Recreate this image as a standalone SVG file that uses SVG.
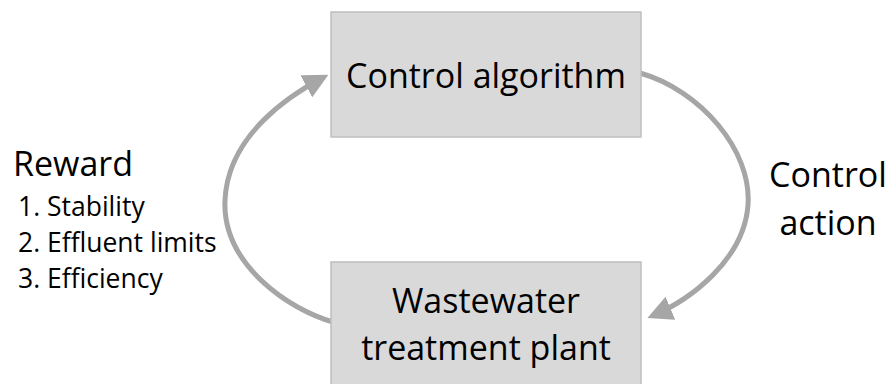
<svg xmlns="http://www.w3.org/2000/svg" width="896" height="384" viewBox="0 0 896 384">
<style>
.box{fill:#d9d9d9;stroke:#bfbfbf;stroke-width:1.5}
text{font-family:"Open Sans","Noto Sans","Liberation Sans",sans-serif;fill:#000}
.big{font-size:34px}
.li{font-size:26.5px}
.conn{fill:none;stroke:#a6a6a6;stroke-width:5}
</style>
<defs>
<marker id="ah" viewBox="0 0 10 10" refX="8" refY="5" markerWidth="5" markerHeight="5" orient="auto" markerUnits="strokeWidth">
<path d="M0,0 L10,5 L0,10 z" fill="#a6a6a6"/>
</marker>
</defs>
<g id="connectors">
<path class="conn" d="M640,73 C700,90 752,150 748,205 C744,260 690,300 652,316" marker-end="url(#ah)"/>
<path class="conn" d="M333,322 C290,310 222,265 225,200 C228,135 290,95 324,77" marker-end="url(#ah)"/>
</g>
<g id="control-algorithm">
<rect class="box" x="331" y="12" width="310" height="125"/>
<text class="big" x="486" y="88" text-anchor="middle">Control algorithm</text>
</g>
<g id="wastewater-plant">
<rect class="box" x="331" y="262" width="310" height="140"/>
<text class="big" x="486" y="313" text-anchor="middle">Wastewater</text>
<text class="big" x="486" y="360" text-anchor="middle">treatment plant</text>
</g>
<g id="reward">
<text class="big" x="13" y="176">Reward</text>
<text class="li" x="18" y="216">1. Stability</text>
<text class="li" x="18" y="252">2. Effluent limits</text>
<text class="li" x="18" y="288">3. Efficiency</text>
</g>
<g id="control-action">
<text class="big" x="828" y="187" text-anchor="middle">Control</text>
<text class="big" x="828" y="235" text-anchor="middle">action</text>
</g>
</svg>
